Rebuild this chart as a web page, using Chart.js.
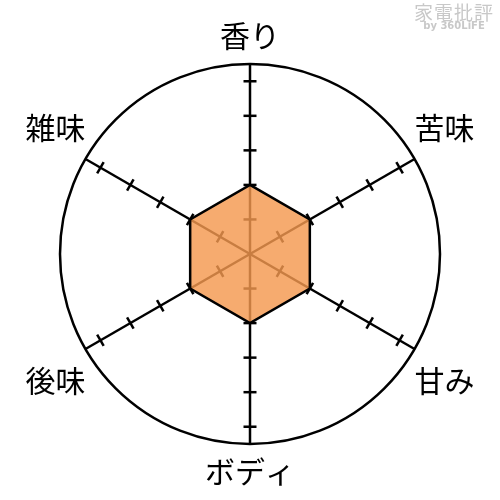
<!DOCTYPE html>
<html>
<head>
<meta charset="utf-8">
<script src="https://cdn.jsdelivr.net/npm/chart.js@4.4.1/dist/chart.umd.min.js"></script>
<style>
  html, body { margin: 0; padding: 0; background: #fff; }
  #wrap { position: relative; width: 500px; height: 500px; }
  #mark { position: absolute; right: 6px; top: 2px; text-align: center; color: #c8c8c8;
          font-family: "Noto Sans CJK JP", sans-serif; line-height: 1; }
  #mark .t { font-size: 19px; letter-spacing: 1px; }
  #mark .s { font-size: 10px; font-weight: bold; font-family: "DejaVu Sans", sans-serif; }
</style>
</head>
<body>
<div id="wrap">
  <canvas id="myChart" width="500" height="500"></canvas>
  <div id="mark"><div class="t">家電批評</div><div class="s">by 360LiFE</div></div>
</div>
<script>
var labels = ["香り", "苦味", "甘み", "ボディ", "後味", "雑味"];
var values = [2, 2, 2, 2, 2, 2];
var tickMarks = [1, 2, 3, 4, 5];
var scaleMax = 5.5;

// small tick dashes across each axis, drawn before the fill so they show through it
var axisTicks = {
    id: 'axisTicks',
    beforeDatasetsDraw: function (chart) {
        var scale = chart.scales.r;
        var ctx = chart.ctx;
        ctx.save();
        ctx.strokeStyle = '#000';
        ctx.lineWidth = 2.5;
        for (var i = 0; i < labels.length; i++) {
            var end = scale.getPointPositionForValue(i, scaleMax);
            var dx = end.x - scale.xCenter, dy = end.y - scale.yCenter;
            var len = Math.sqrt(dx * dx + dy * dy);
            var px = -dy / len * 6.5, py = dx / len * 6.5;
            tickMarks.forEach(function (v) {
                var p = scale.getPointPositionForValue(i, v);
                ctx.beginPath();
                ctx.moveTo(p.x - px, p.y - py);
                ctx.lineTo(p.x + px, p.y + py);
                ctx.stroke();
            });
        }
        ctx.restore();
    }
};

// top/bottom labels sit straight off the axis, side labels hug the circle
function isSide(i) { return i % 3 !== 0; }

var ctx = document.getElementById('myChart').getContext('2d');
var myChart = new Chart(ctx, {
    type: 'radar',
    data: {
        labels: labels,
        datasets: [{
            data: values,
            backgroundColor: 'rgba(244,152,79,0.82)',
            borderColor: '#000',
            borderWidth: 2.5,
            pointRadius: 0,
            fill: true
        }]
    },
    options: {
        responsive: false,
        animation: false,
        layout: { padding: { top: 18, bottom: 9, left: 25, right: 25 } },
        plugins: { legend: { display: false }, tooltip: { enabled: false } },
        scales: {
            r: {
                min: 0,
                max: scaleMax,
                ticks: { display: false, stepSize: scaleMax },
                grid: { circular: true, color: '#000', lineWidth: 2.5 },
                angleLines: { color: '#000', lineWidth: 2.5 },
                pointLabels: {
                    color: '#000',
                    padding: function (c) { return isSide(c.index) ? 0 : 10; },
                    font: function (c) {
                        return {
                            family: '"Noto Sans CJK JP", sans-serif',
                            size: 30,
                            lineHeight: isSide(c.index) ? 2.1 : 1.2
                        };
                    }
                }
            }
        }
    },
    plugins: [axisTicks]
});
</script>
</body>
</html>
